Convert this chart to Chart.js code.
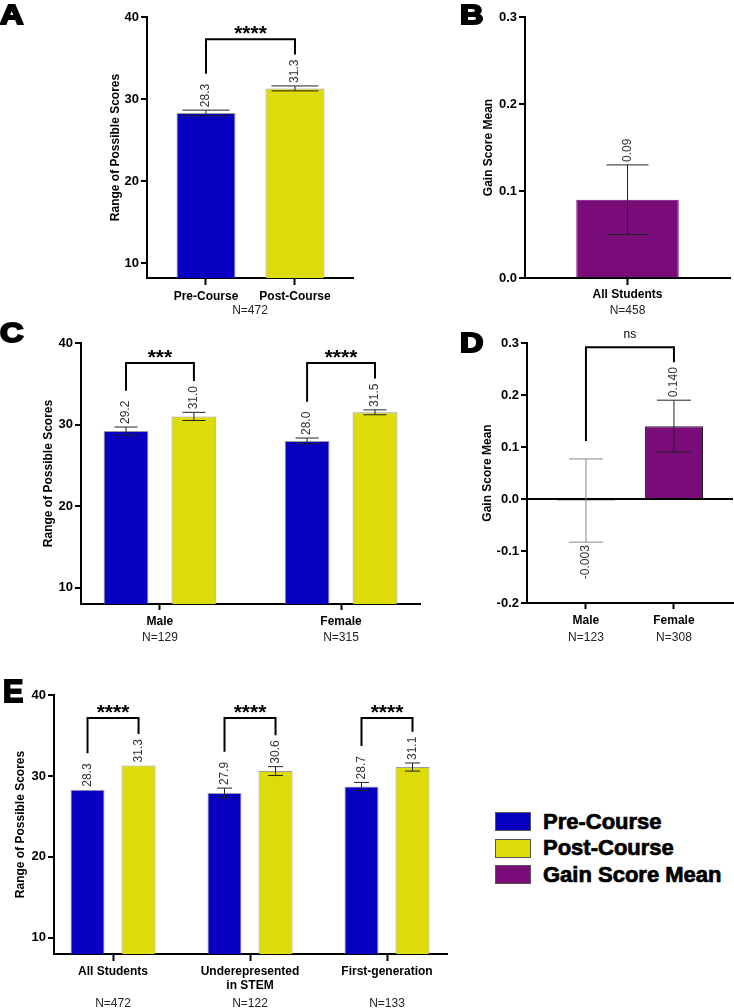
<!DOCTYPE html>
<html>
<head>
<meta charset="utf-8">
<script src="https://cdn.jsdelivr.net/npm/chart.js@4/dist/chart.umd.min.js"></script>
<style>
  body { margin: 0; background: #fff; }
  #page { position: relative; width: 734px; height: 1008px; overflow: hidden; font-family: Arial, "Liberation Sans", sans-serif; }
  .panel { position: absolute; }
  .letter { position: absolute; font-weight: bold; color: #000; -webkit-text-stroke: 2px #000; line-height: 1; transform-origin: left top; }
  .legend-row { position: absolute; left: 495px; height: 19px; display: flex; align-items: center; }
  .swatch { width: 34px; height: 17px; border: 1px solid #555; }
  .legend-row span { margin-left: 12px; font-size: 22px; font-weight: bold; -webkit-text-stroke: 0.7px #000; white-space: nowrap; }
</style>
</head>
<body>
<div id="page">
  <canvas id="chartA" class="panel" width="360" height="320" style="left:0;top:0"></canvas>
  <canvas id="chartB" class="panel" width="374" height="320" style="left:360px;top:0"></canvas>
  <canvas id="chartC" class="panel" width="430" height="330" style="left:0;top:320px"></canvas>
  <canvas id="chartD" class="panel" width="304" height="330" style="left:430px;top:320px"></canvas>
  <canvas id="chartE" class="panel" width="460" height="358" style="left:0;top:650px"></canvas>

  <div class="letter" style="left:0;top:2px;font-size:27px;transform:scaleX(1.2)">A</div>
  <div class="letter" style="left:460px;top:2px;font-size:27px;transform:scaleX(1.2)">B</div>
  <div class="letter" style="left:0;top:320px;font-size:27px;transform:scaleX(1.2)">C</div>
  <div class="letter" style="left:460px;top:330px;font-size:27px;transform:scaleX(1.2)">D</div>
  <div class="letter" style="left:3px;top:675px;font-size:32px;transform:scaleX(0.95)">E</div>

  <div id="legend"></div>
</div>
<script>
// panel A
const catsA = ["Pre-Course", "Post-Course"];
const scoresA = [28.3, 31.3];
const errA = [0.35, 0.3];
const nA = "N=472";
const sigA = ["****"];

// panel B
const catsB = ["All Students"];
const gainB = [0.09];
const errB = [0.04];
const nB = "N=458";

// panel C
const catsC = ["Male", "Female"];
const nC = ["N=129", "N=315"];
const preC = [29.2, 28.0];
const postC = [31.0, 31.5];
const preErrC = [0.5, 0.35];
const postErrC = [0.5, 0.3];
const sigC = ["***", "****"];

// panel D
const catsD = ["Male", "Female"];
const nD = ["N=123", "N=308"];
const gainD = [-0.003, 0.140];
const errD = [0.08, 0.05];
const sigD = ["ns"];

// panel E
const catsE = ["All Students", ["Underepresented", "in STEM"], "First-generation"];
const nE = ["N=472", "N=122", "N=133"];
const preE = [28.3, 27.9, 28.7];
const postE = [31.3, 30.6, 31.1];
const preErrE = [0, 0.6, 0.5];
const postErrE = [0, 0.55, 0.5];
const sigE = ["****", "****", "****"];

// axes
const scoreTicks = [10, 20, 30, 40];
const gainTicksB = [0, 0.1, 0.2, 0.3];
const gainTicksD = [-0.2, -0.1, 0, 0.1, 0.2, 0.3];

const legendLabels = ["Pre-Course", "Post-Course", "Gain Score Mean"];

const BLUE = "#0800c0";
const YELLOW = "#dedc08";
const PURPLE = "#7a0c7a";
const FONT = 'Arial, "Liberation Sans", sans-serif';

Chart.defaults.font.family = FONT;
Chart.defaults.color = "#000";

const pts = arr => arr.map((v, i) => ({ x: i, y: v }));

// error bars, rotated value labels and significance brackets
function barMarks(cfg) {
  return {
    id: "barMarks",
    afterDatasetsDraw(chart) {
      const ctx = chart.ctx;
      const y = chart.scales.y;
      const tops = [];
      ctx.save();
      chart.data.datasets.forEach((ds, d) => {
        tops[d] = [];
        chart.getDatasetMeta(d).data.forEach((bar, i) => {
          const v = ds.data[i].y;
          const e = cfg.errors[d][i];
          const x = bar.x;
          const hi = y.getPixelForValue(v + e);
          const lo = y.getPixelForValue(v - e);
          if (e > 0) {
            ctx.strokeStyle = cfg.errColors ? cfg.errColors[i] : "#222";
            ctx.lineWidth = 1;
            ctx.beginPath();
            ctx.moveTo(x, hi); ctx.lineTo(x, lo);
            ctx.moveTo(x - cfg.cap / 2, hi); ctx.lineTo(x + cfg.cap / 2, hi);
            ctx.moveTo(x - cfg.cap / 2, lo); ctx.lineTo(x + cfg.cap / 2, lo);
            ctx.stroke();
          }
          const text = v.toFixed(cfg.decimals);
          ctx.font = "12px " + FONT;
          ctx.fillStyle = "#333";
          const w = ctx.measureText(text).width;
          ctx.save();
          ctx.textBaseline = "middle";
          if (v >= 0) {
            ctx.translate(x, hi - 3);
            ctx.rotate(-Math.PI / 2);
            ctx.textAlign = "left";
            ctx.fillText(text, 0, 0);
            tops[d][i] = hi - 3 - w;
          } else {
            ctx.translate(x, lo + 3);
            ctx.rotate(-Math.PI / 2);
            ctx.textAlign = "right";
            ctx.fillText(text, 0, 0);
            tops[d][i] = y.getPixelForValue(Math.max(v + e, 0)) - 8;
          }
          ctx.restore();
        });
      });

      const top = y.getPixelForValue(cfg.sigLevel);
      cfg.sig.forEach(s => {
        const xa = chart.getDatasetMeta(s.a[0]).data[s.a[1]].x;
        const xb = chart.getDatasetMeta(s.b[0]).data[s.b[1]].x;
        const ya = tops[s.a[0]][s.a[1]] - 10;
        const yb = tops[s.b[0]][s.b[1]] - 5;
        ctx.strokeStyle = "#000";
        ctx.lineWidth = 2;
        ctx.beginPath();
        ctx.moveTo(xa, ya); ctx.lineTo(xa, top); ctx.lineTo(xb, top); ctx.lineTo(xb, yb);
        ctx.stroke();
        ctx.fillStyle = "#000";
        ctx.textAlign = "center";
        ctx.textBaseline = "alphabetic";
        if (s.text === "ns") {
          ctx.font = "12px " + FONT;
          ctx.fillText(s.text, (xa + xb) / 2, top - 9);
        } else {
          ctx.font = "bold 21px " + FONT;
          ctx.fillText(s.text, (xa + xb) / 2, top + 1);
        }
      });
      ctx.restore();
    }
  };
}

function yAxis(o) {
  return {
    min: o.min, max: o.max, beginAtZero: false,
    afterFit: s => { s.width = o.width; },
    afterBuildTicks: s => { s.ticks = o.ticks.map(v => ({ value: v })); },
    border: { display: true, color: "#000", width: 2 },
    grid: {
      drawOnChartArea: !!o.zero,
      color: c => (o.zero && c.tick && c.tick.value === 0) ? "#000" : "rgba(0,0,0,0)",
      lineWidth: 2, tickColor: "#000", tickWidth: 2, tickLength: 6
    },
    ticks: { font: { size: 13, weight: "bold" }, color: "#000", padding: 2, callback: v => Number(v).toFixed(o.decimals) },
    title: { display: true, text: o.title, font: { size: 12, weight: "bold" }, color: "#000", padding: { top: o.titlePad, bottom: 0 } }
  };
}

function xAxis(o) {
  return {
    type: "linear", position: "bottom", min: o.min, max: o.max, offset: false,
    afterFit: s => { s.height = o.height; },
    afterBuildTicks: s => { s.ticks = o.labels.map((l, i) => ({ value: i })); },
    border: { display: true, color: "#000", width: 2 },
    grid: { offset: false, drawOnChartArea: false, color: "#000", tickColor: "#000", tickWidth: 2, tickLength: o.tickLen },
    ticks: { autoSkip: false, maxRotation: 0, font: { size: 12, weight: "bold" }, color: "#000", padding: o.pad, callback: v => o.labels[v] },
    title: o.n ? { display: true, text: o.n, font: { size: 12 }, color: "#222", padding: { top: 0, bottom: 2 } } : { display: false }
  };
}

function nAxis(o) {
  return {
    type: "linear", position: "bottom", min: o.min, max: o.max, offset: false,
    afterFit: s => { s.height = o.height; },
    afterBuildTicks: s => { s.ticks = o.labels.map((l, i) => ({ value: i })); },
    border: { display: false },
    grid: { display: false, drawTicks: false, offset: false },
    ticks: { autoSkip: false, maxRotation: 0, font: { size: 12 }, color: "#222", padding: o.pad, callback: v => o.labels[v] }
  };
}

function baseOptions(padding, scales) {
  return {
    responsive: false,
    animation: false,
    layout: { padding },
    plugins: { legend: { display: false }, tooltip: { enabled: false } },
    scales
  };
}

function barSet(values, colors, catPct, barPct, border) {
  return {
    data: pts(values),
    backgroundColor: colors,
    borderColor: border || "#9a9a9a",
    borderWidth: 1,
    categoryPercentage: catPct,
    barPercentage: barPct
  };
}

// A
new Chart(document.getElementById("chartA"), {
  type: "bar",
  data: { datasets: [barSet(scoresA, [BLUE, YELLOW], 1, 0.663)] },
  options: baseOptions({ left: 0, top: 17, right: 7, bottom: 0 }, {
    x: xAxis({ min: -0.663, max: 1.652, height: 42, tickLen: 7, pad: 4, labels: catsA, n: nA }),
    y: yAxis({ min: 8.2, max: 40, ticks: scoreTicks, decimals: 0, width: 147, title: "Range of Possible Scores", titlePad: 108 })
  }),
  plugins: [barMarks({ errors: [errA], decimals: 1, cap: 47, sigLevel: 37.3,
    sig: [{ a: [0, 0], b: [0, 1], text: sigA[0] }] })]
});

// B
new Chart(document.getElementById("chartB"), {
  type: "bar",
  data: { datasets: [barSet(gainB, PURPLE, 1, 0.5, PURPLE)] },
  options: baseOptions({ left: 0, top: 17, right: 4, bottom: 0 }, {
    x: xAxis({ min: -1, max: 1, height: 42, tickLen: 7, pad: 2, labels: catsB, n: nB }),
    y: yAxis({ min: 0, max: 0.3, ticks: gainTicksB, decimals: 1, width: 165, title: "Gain Score Mean", titlePad: 121 })
  }),
  plugins: [barMarks({ errors: [errB], decimals: 2, cap: 42, sigLevel: 0.3, sig: [] })]
});

// C
new Chart(document.getElementById("chartC"), {
  type: "bar",
  data: { datasets: [
    barSet(preC, BLUE, 0.75, 0.66),
    barSet(postC, YELLOW, 0.75, 0.66)
  ] },
  options: baseOptions({ left: 0, top: 23, right: 10, bottom: 0 }, {
    x: xAxis({ min: -0.436, max: 1.436, height: 25, tickLen: 6, pad: 4, labels: catsC }),
    xN: nAxis({ min: -0.436, max: 1.436, height: 21, pad: 1, labels: nC }),
    y: yAxis({ min: 8, max: 40, ticks: scoreTicks, decimals: 0, width: 81, title: "Range of Possible Scores", titlePad: 41 })
  }),
  plugins: [barMarks({ errors: [preErrC, postErrC], decimals: 1, cap: 23, sigLevel: 37.55,
    sig: sigC.map((t, i) => ({ a: [0, i], b: [1, i], text: t })) })]
});

// D
new Chart(document.getElementById("chartD"), {
  type: "bar",
  data: { datasets: [barSet(gainD, PURPLE, 1, 0.66, "#222")] },
  options: baseOptions({ left: 0, top: 23, right: 1, bottom: 0 }, {
    x: xAxis({ min: -0.670, max: 1.671, height: 25, tickLen: 6, pad: 4, labels: catsD }),
    xN: nAxis({ min: -0.670, max: 1.671, height: 22, pad: 2, labels: nD }),
    y: yAxis({ min: -0.2, max: 0.3, ticks: gainTicksD, decimals: 1, width: 97, title: "Gain Score Mean", titlePad: 50, zero: true })
  }),
  plugins: [barMarks({ errors: [errD], errColors: ["#888", "#222"], decimals: 3, cap: 34, sigLevel: 0.292,
    sig: [{ a: [0, 0], b: [0, 1], text: sigD[0] }] })]
});

// E
new Chart(document.getElementById("chartE"), {
  type: "bar",
  data: { datasets: [
    barSet(preE, BLUE, 0.745, 0.667),
    barSet(postE, YELLOW, 0.745, 0.667)
  ] },
  options: baseOptions({ left: 0, top: 45, right: 13, bottom: 0 }, {
    x: xAxis({ min: -0.431, max: 2.438, height: 39, tickLen: 7, pad: 3, labels: catsE }),
    xN: nAxis({ min: -0.431, max: 2.438, height: 15, pad: 3, labels: nE }),
    y: yAxis({ min: 8, max: 40, ticks: scoreTicks, decimals: 0, width: 54, title: "Range of Possible Scores", titlePad: 13 })
  }),
  plugins: [barMarks({ errors: [preErrE, postErrE], decimals: 1, cap: 15, sigLevel: 37.16,
    sig: sigE.map((t, i) => ({ a: [0, i], b: [1, i], text: t })) })]
});

// shared legend
const legendColors = [BLUE, YELLOW, PURPLE];
const legend = document.getElementById("legend");
legendLabels.forEach((label, i) => {
  const row = document.createElement("div");
  row.className = "legend-row";
  row.style.top = (812 + i * 26.5) + "px";
  row.innerHTML = '<div class="swatch" style="background:' + legendColors[i] + '"></div><span>' + label + "</span>";
  legend.appendChild(row);
});
</script>
</body>
</html>
